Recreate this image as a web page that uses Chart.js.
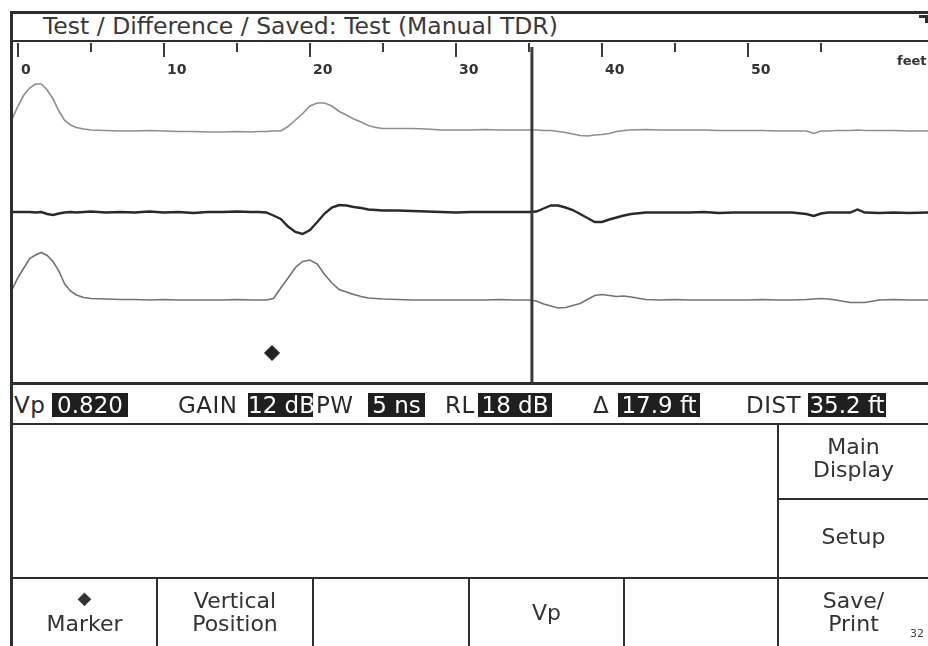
<!DOCTYPE html>
<html>
<head>
<meta charset="utf-8">
<script src="https://cdn.jsdelivr.net/npm/chart.js@4.4.1/dist/chart.umd.min.js"></script>
<style>
  body { margin: 0; width: 928px; height: 646px; overflow: hidden; background: #fff; position: relative; font-family: "DejaVu Sans", sans-serif; color: #333; }
  #plot { position: absolute; left: 12px; top: 42px; }
  .ln { position: absolute; background: #2e2e2e; }
  .lbl { position: absolute; white-space: nowrap; }
  .st { position: absolute; top: 393px; height: 24px; line-height: 24px; font-size: 23px; letter-spacing: 0.5px; white-space: nowrap;
        font-family: "DejaVu Sans", sans-serif; color: #2a2a2a; }
  .box { background: #1f1f1f; color: #fff; text-align: center; letter-spacing: 0; }
  .key { position: absolute; text-align: center; font-size: 22px; line-height: 23px; color: #333; }
</style>
</head>
<body>
<canvas id="plot" width="916" height="341"></canvas>

<!-- frame -->
<div class="ln" style="left:10px;top:11px;width:918px;height:3px"></div>
<div class="ln" style="left:10px;top:11px;width:3px;height:635px"></div>
<div class="ln" style="left:10px;top:40px;width:918px;height:2px"></div>
<div class="ln" style="left:919px;top:15px;width:9px;height:3px"></div>
<div class="ln" style="left:925px;top:15px;width:3px;height:8px"></div>
<div class="lbl" style="left:43px;top:12px;font-size:23.5px;line-height:28px;color:#3a3a3a">Test / Difference / Saved: Test (Manual TDR)</div>
<div class="ln" style="left:10px;top:382px;width:918px;height:3px"></div>

<!-- status bar -->
<div class="st" style="left:14px">Vp</div>
<div class="st box" style="left:52px;width:76px">0.820</div>
<div class="st" style="left:178px">GAIN</div>
<div class="st box" style="left:248px;width:65px">12 dB</div>
<div class="st" style="left:316px">PW</div>
<div class="st box" style="left:368px;width:57px">5 ns</div>
<div class="st" style="left:445px">RL</div>
<div class="st box" style="left:478px;width:74px">18 dB</div>
<div class="st" style="left:593px">Δ</div>
<div class="st box" style="left:618px;width:82px">17.9 ft</div>
<div class="st" style="left:746px">DIST</div>
<div class="st box" style="left:808px;width:78px">35.2 ft</div>

<!-- softkeys -->
<div class="ln" style="left:10px;top:423px;width:918px;height:2px"></div>
<div class="ln" style="left:777px;top:423px;width:2px;height:223px"></div>
<div class="ln" style="left:777px;top:498px;width:151px;height:2px"></div>
<div class="ln" style="left:10px;top:577px;width:918px;height:2px"></div>
<div class="ln" style="left:156px;top:577px;width:2px;height:69px"></div>
<div class="ln" style="left:312px;top:577px;width:2px;height:69px"></div>
<div class="ln" style="left:468px;top:577px;width:2px;height:69px"></div>
<div class="ln" style="left:623px;top:577px;width:2px;height:69px"></div>

<div class="key" style="left:779px;width:149px;top:435px">Main<br>Display</div>
<div class="key" style="left:779px;width:149px;top:525px">Setup</div>
<div class="key" style="left:13px;width:143px;top:587px;font-size:18px;line-height:22px">◆</div>
<div class="key" style="left:13px;width:143px;top:612px">Marker</div>
<div class="key" style="left:158px;width:154px;top:589px">Vertical<br>Position</div>
<div class="key" style="left:470px;width:153px;top:601px">Vp</div>
<div class="key" style="left:779px;width:149px;top:589px">Save/<br>Print</div>
<div class="lbl" style="left:910px;top:627px;font-size:11px;color:#444">32</div>

<script>
// distance along the cable (feet) shared by the three traces
const distanceFt = [
  -0.4, 0, 0.4, 0.8, 1.2, 1.6, 2.0, 2.4, 2.8, 3.2,
  3.6, 4.0, 4.5, 5, 6, 7, 8, 9, 10, 11,
  12, 13, 14, 15, 16, 16.5, 17, 17.5, 18, 18.5,
  19, 19.5, 20, 20.5, 21, 21.5, 22, 22.5, 23, 23.5,
  24, 24.5, 25, 26, 27, 28, 29, 30, 31, 32,
  33, 34, 35, 35.5, 36, 36.5, 37, 37.5, 38, 38.5,
  39, 39.5, 40, 40.5, 41, 41.5, 42, 43, 44, 45,
  46, 47, 48, 49, 50, 51, 52, 53, 54, 54.5,
  55, 55.5, 56, 57, 57.5, 58, 59, 60, 61, 62.4
]

// trace levels (display units, vertical position included)
const testTrace = [
  264, 277, 288, 295, 299, 299, 293, 284, 272, 262.5,
  258, 255.5, 254, 253, 252.5, 252, 252, 252.5, 252, 251.5,
  251.5, 251, 251, 251.5, 251, 251.5, 251.5, 252, 252, 256.5,
  263, 269.5, 277, 280, 280, 277, 271.5, 268, 264, 261,
  257.5, 255.5, 254.5, 254.5, 254.5, 254, 253, 253, 253, 253.5,
  253, 253, 253, 253, 252.5, 252.5, 251.5, 250.5, 249, 247.5,
  247, 248, 248.5, 249.5, 251.5, 252.5, 253, 253.5, 253, 253,
  253, 253, 252.5, 252.5, 252.5, 252.5, 252, 252, 252, 249.5,
  252, 252, 252.5, 252.5, 253, 252.5, 252.5, 252.5, 252, 252
]

const differenceTrace = [
  171, 171, 171, 171, 170.5, 171, 169, 168, 169.5, 170.5,
  171, 170.5, 171, 171.5, 170.5, 171, 170.5, 171.5, 170.5, 171,
  170, 171, 171, 171.5, 171, 171, 170.5, 167.5, 164, 156.5,
  151, 149, 153, 161, 169.5, 175.5, 178, 177.5, 176, 175,
  173.5, 173, 172.5, 172.5, 172, 171.5, 171, 170.5, 171, 171,
  171, 171, 171, 171.5, 174.5, 177.5, 177.5, 175.5, 173, 169,
  165, 161, 161, 163.5, 165.5, 167.5, 169, 170.5, 170.5, 170.5,
  170.5, 171, 170, 170.5, 170.5, 170.5, 170.5, 170.5, 169, 167,
  169.5, 170.5, 170.5, 170.5, 173.5, 170.5, 170, 170.5, 170, 170.5
]

const savedTrace = [
  93.5, 105.5, 115, 124.5, 128, 130.5, 127.5, 121.5, 112, 99,
  92, 88, 85.5, 84.5, 84, 83.5, 83.5, 83, 83.5, 83,
  83, 83, 83, 83.5, 83, 83, 83, 84.5, 95, 105,
  115.5, 121.5, 123, 119, 108.5, 100, 93.5, 91, 88.5, 86.5,
  85, 84.5, 84, 83.5, 83, 83, 83, 83, 83, 83,
  83.5, 83, 83, 82, 79, 77, 75, 75.5, 77.5, 79.5,
  83.5, 87.5, 88.5, 87.5, 86.5, 87, 86, 83.5, 83, 83.5,
  83, 83, 83, 83, 83, 83.5, 83, 83, 83.5, 84,
  84.5, 84, 83, 80.5, 80.5, 80.5, 83, 83.5, 83, 83
]

const cursorFt = 35.2
const markerFt = 17.4
const markerLevel = 30
const majorTicks = [0, 10, 20, 30, 40, 50]
const minorTicks = [5, 15, 25, 35, 45, 55]
const unitLabel = 'feet'

function toPoints(values){
  return distanceFt.map((d, i) => ({x: d, y: values[i]}))
}

// distance ruler hanging from the top edge of the plot
const ruler = {
  id: 'ruler',
  afterDraw(chart){
    const ctx = chart.ctx
    const xs = chart.scales.x
    ctx.save()
    ctx.strokeStyle = '#3a3a3a'
    ctx.lineWidth = 2
    majorTicks.forEach(t => {
      const px = Math.round(xs.getPixelForValue(t))
      ctx.beginPath(); ctx.moveTo(px, 1); ctx.lineTo(px, 15); ctx.stroke()
    })
    minorTicks.forEach(t => {
      const px = Math.round(xs.getPixelForValue(t))
      ctx.beginPath(); ctx.moveTo(px, 1); ctx.lineTo(px, 10); ctx.stroke()
    })
    ctx.fillStyle = '#333'
    ctx.font = 'bold 14px "DejaVu Sans"'
    ctx.textBaseline = 'middle'
    ctx.textAlign = 'left'
    majorTicks.forEach(t => {
      ctx.fillText(String(t), Math.round(xs.getPixelForValue(t)) + 3, 28)
    })
    ctx.font = 'bold 13px "DejaVu Sans"'
    ctx.fillText(unitLabel, chart.width - 31, 20)
    ctx.restore()
  }
}

new Chart(document.getElementById('plot'), {
  type: 'line',
  data: {
    datasets: [
      {
        label: 'Cursor',
        data: [{x: cursorFt, y: 0}, {x: cursorFt, y: 336}],
        borderColor: '#3a3a3a',
        borderWidth: 3,
        pointRadius: 0,
        order: 0
      },
      {
        label: 'Marker',
        type: 'scatter',
        data: [{x: markerFt, y: markerLevel}],
        pointStyle: 'rectRot',
        pointRadius: 7.5,
        backgroundColor: '#222',
        borderColor: '#222',
        borderWidth: 1,
        order: 1
      },
      {
        label: 'Test',
        data: toPoints(testTrace),
        borderColor: '#8e8e8e',
        borderWidth: 1.6,
        pointRadius: 0,
        order: 2
      },
      {
        label: 'Difference',
        data: toPoints(differenceTrace),
        borderColor: '#2a2a2a',
        borderWidth: 2.4,
        pointRadius: 0,
        order: 3
      },
      {
        label: 'Saved',
        data: toPoints(savedTrace),
        borderColor: '#727272',
        borderWidth: 1.6,
        pointRadius: 0,
        order: 4
      }
    ]
  },
  options: {
    responsive: false,
    animation: false,
    layout: {padding: 0, autoPadding: false},
    elements: {line: {tension: 0}},
    plugins: {
      legend: {display: false},
      tooltip: {enabled: false}
    },
    scales: {
      x: {type: 'linear', min: -0.41, max: 62.33, display: false},
      y: {min: 0, max: 341, display: false}
    }
  },
  plugins: [ruler]
})
</script>
</body>
</html>
